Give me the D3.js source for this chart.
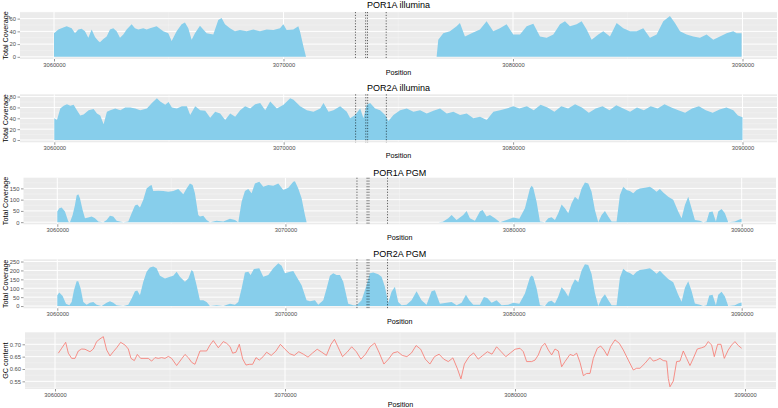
<!DOCTYPE html>
<html>
<head>
<meta charset="utf-8">
<script src="https://cdn.jsdelivr.net/npm/d3@7"></script>
<style>
  body { margin: 0; background: #fff; }
  text { font-family: "Liberation Sans", Arial, sans-serif; }
</style>
</head>
<body>
<svg id="chart" width="778" height="408"></svg>
<script>
// positions are stored as offsets from START
const START = 3060000
const xTickValues = [3060000, 3070000, 3080000, 3090000]
const markerPositions = [3073135, 3073580, 3073660, 3074475]

const por1aIllumina = [[0,37],[189,43],[407,46],[552,48],[770,45],[915,37],[1060,43],[1205,44],[1350,40],[1496,30],
  [1641,43],[1786,31],[1931,25],[2004,23],[2149,28],[2294,32],[2439,43],[2585,45],[2730,40],[2875,30],[3020,35],
  [3165,43],[3383,51],[3528,45],[3674,43],[3891,45],[4037,43],[4182,45],[4472,48],[4763,40],[4980,37],[5126,25],
  [5343,40],[5561,51],[5706,54],[5852,45],[5997,27],[6142,37],[6360,49],[6505,43],[6650,37],[6941,35],[7158,58],
  [7304,61],[7449,51],[7667,45],[7885,40],[8102,42],[8393,40],[8683,43],[8976,40],[9266,43],[9557,42],[9847,45],
  [9992,51],[10138,42],[10428,43],[10646,48],[10718,40],[10864,17],[10980,0],[16672,0],[16744,27],[16962,37],
  [17252,40],[17543,48],[17688,53],[17906,32],[18196,37],[18559,43],[18850,56],[19140,40],[19430,45],[19721,51],
  [20011,35],[20305,35],[20595,48],[20886,52],[21176,32],[21467,30],[21757,35],[22047,51],[22265,56],[22483,48],
  [22773,51],[22991,56],[23209,43],[23427,27],[23717,35],[23935,40],[24225,32],[24516,53],[24806,45],[25097,40],
  [25387,40],[25677,45],[25968,30],[26258,35],[26549,56],[26839,64],[27057,53],[27275,40],[27565,35],[27855,32],
  [28146,30],[28436,35],[28726,27],[29017,32],[29307,37],[29598,40],[29743,37],[29961,37]]

const por2aIllumina = [[0,40],[116,37],[261,58],[407,63],[552,66],[697,63],[842,65],[987,55],[1133,45],[1278,47],
  [1496,55],[1713,57],[1859,49],[2004,45],[2149,29],[2294,52],[2439,55],[2657,58],[2875,55],[3093,60],[3311,60],
  [3528,58],[3746,55],[4037,58],[4254,68],[4472,77],[4617,71],[4835,65],[4980,70],[5126,60],[5343,58],[5561,62],
  [5779,62],[5924,46],[6142,62],[6360,55],[6578,54],[6796,41],[7013,52],[7231,49],[7449,37],[7667,49],[7885,43],
  [8102,55],[8320,62],[8538,58],[8756,66],[8976,68],[9194,55],[9412,71],[9702,58],[9992,65],[10283,77],[10428,74],
  [10718,62],[11009,55],[11299,52],[11590,58],[11735,68],[11953,52],[12170,55],[12461,62],[12751,52],[12896,40],
  [13114,46],[13334,58],[13477,40],[13622,65],[13768,68],[13985,58],[14203,55],[14421,46],[14566,35],[14784,46],
  [15074,55],[15365,58],[15655,52],[15946,55],[16236,49],[16526,54],[16817,58],[17107,49],[17398,52],[17688,46],
  [17978,49],[18269,40],[18559,43],[18850,37],[19140,52],[19430,55],[19721,58],[20011,62],[20273,58],[20600,62],
  [20900,55],[21200,65],[21500,60],[21800,52],[22100,62],[22400,58],[22700,66],[23000,60],[23300,50],[23600,58],
  [23900,62],[24200,55],[24500,64],[24800,58],[25100,52],[25400,60],[25700,55],[26000,62],[26300,58],[26600,66],
  [26900,60],[27200,55],[27500,50],[27800,58],[28100,62],[28400,55],[28700,50],[29000,56],[29300,60],[29600,55],
  [29800,45],[30000,42]]

const por1aPgm = [[0,47],[88,62],[190,65],[336,47],[482,3],[555,0],[672,32],[774,76],[847,118],[920,124],[993,106],
  [1110,54],[1213,18],[1359,21],[1505,25],[1651,18],[1797,3],[2016,0],[2162,10],[2308,29],[2454,25],[2600,6],
  [2892,0],[3112,3],[3258,40],[3404,74],[3506,79],[3623,65],[3769,99],[3915,150],[4061,162],[4134,165],[4207,138],
  [4427,140],[4646,138],[4865,135],[5084,138],[5303,147],[5522,124],[5668,150],[5814,172],[5931,165],[6033,128],
  [6179,32],[6253,25],[6399,29],[6545,10],[6691,0],[6983,6],[7276,3],[7568,15],[7787,10],[7933,0],[8079,91],
  [8225,138],[8371,147],[8517,128],[8663,172],[8853,179],[9029,157],[9248,165],[9467,162],[9687,172],[9906,143],
  [10125,153],[10344,179],[10417,182],[10563,150],[10709,106],[10855,32],[10928,0],[16699,0],[16900,2],[17138,18],
  [17284,32],[17503,10],[17795,32],[17941,50],[18087,18],[18306,6],[18525,47],[18642,54],[18818,25],[18964,32],
  [19183,18],[19402,0],[19695,10],[19987,21],[20253,15],[20498,62],[20717,150],[20790,162],[20863,153],[21010,91],
  [21156,3],[21375,0],[21521,18],[21667,22],[21813,10],[21959,40],[22105,79],[22251,62],[22397,40],[22543,84],
  [22690,113],[22836,99],[22982,150],[23128,176],[23274,172],[23420,135],[23566,54],[23712,0],[23859,32],[24005,50],
  [24151,25],[24297,3],[24516,3],[24662,121],[24808,157],[24954,143],[25100,138],[25246,128],[25393,143],[25539,150],
  [25758,153],[25977,157],[26123,147],[26269,135],[26415,147],[26561,132],[26780,113],[26999,99],[27218,47],
  [27365,18],[27511,76],[27657,113],[27803,62],[27949,10],[28168,6],[28314,0],[28460,3],[28577,44],[28723,47],
  [28869,3],[28972,47],[29118,59],[29264,40],[29410,0],[29702,3],[29848,10],[29994,15]]

const por2aPgm = [[0,61],[88,76],[234,57],[380,13],[526,4],[628,23],[730,89],[847,140],[920,140],[1023,98],[1140,23],
  [1286,8],[1432,19],[1578,23],[1724,8],[1943,0],[2162,19],[2308,27],[2454,19],[2600,4],[2892,0],[3112,8],[3258,42],
  [3404,83],[3506,87],[3623,61],[3769,136],[3915,193],[4061,216],[4207,222],[4353,212],[4500,170],[4719,155],
  [4938,165],[5084,170],[5230,193],[5376,165],[5595,136],[5741,155],[5887,203],[5960,193],[6106,117],[6253,32],
  [6399,32],[6545,23],[6691,0],[6983,4],[7276,0],[7568,13],[7787,8],[7933,23],[8079,98],[8225,189],[8371,193],
  [8473,174],[8619,208],[8853,212],[9029,165],[9248,174],[9467,212],[9687,241],[9833,227],[9979,184],[10198,193],
  [10344,197],[10490,165],[10709,117],[10928,32],[11074,27],[11293,32],[11439,8],[11658,32],[11804,98],[11950,170],
  [12096,184],[12242,174],[12388,174],[12534,136],[12753,13],[12972,4],[13119,4],[13338,32],[13557,117],[13703,184],
  [13849,189],[14068,178],[14214,165],[14360,108],[14506,19],[14652,80],[14798,108],[14944,23],[15090,4],[15309,8],
  [15528,32],[15748,83],[15967,32],[16186,8],[16406,83],[16552,89],[16771,13],[17064,19],[17284,23],[17503,4],
  [17722,19],[17912,64],[18058,32],[18234,8],[18525,8],[18700,51],[18847,45],[19036,19],[19256,32],[19475,4],
  [19767,8],[19987,19],[20253,13],[20498,70],[20717,160],[20790,172],[20863,164],[21010,100],[21156,4],[21375,0],
  [21521,24],[21667,30],[21813,14],[21959,54],[22105,105],[22251,84],[22397,54],[22543,113],[22690,150],[22836,134],
  [22982,200],[23128,235],[23274,230],[23420,180],[23566,73],[23712,0],[23859,43],[24005,67],[24151,34],[24297,4],
  [24516,4],[24662,160],[24808,210],[24954,193],[25100,186],[25246,173],[25393,193],[25539,203],[25758,207],
  [25977,212],[26123,198],[26269,182],[26415,198],[26561,178],[26780,152],[26999,134],[27218,63],[27365,24],
  [27511,103],[27657,140],[27803,84],[27949,14],[28168,8],[28314,0],[28460,4],[28577,59],[28723,63],[28869,4],
  [28972,63],[29118,80],[29264,54],[29410,0],[29702,4],[29848,14],[29994,20]]

const gcContent = [[145,0.664],[290,0.684],[464,0.708],[580,0.664],[725,0.643],[869,0.643],[1014,0.673],[1159,0.681],
  [1304,0.680],[1521,0.670],[1666,0.681],[1811,0.711],[1956,0.722],[2101,0.731],[2246,0.677],[2391,0.653],[2536,0.670],
  [2681,0.686],[2855,0.708],[3043,0.697],[3188,0.681],[3304,0.643],[3449,0.634],[3579,0.659],[3724,0.643],[3869,0.643],
  [4057,0.643],[4202,0.632],[4347,0.646],[4492,0.643],[4637,0.646],[4782,0.643],[4927,0.651],[5071,0.643],[5289,0.614],
  [5506,0.641],[5651,0.659],[5796,0.646],[5941,0.627],[6086,0.619],[6303,0.673],[6593,0.673],[6738,0.697],[6883,0.715],
  [7100,0.686],[7318,0.711],[7463,0.704],[7608,0.691],[7724,0.664],[7869,0.668],[8014,0.700],[8159,0.641],[8304,0.616],
  [8448,0.619],[8593,0.619],[8738,0.646],[8882,0.636],[9050,0.650],[9200,0.668],[9400,0.655],[9600,0.672],[9800,0.700],
  [10000,0.680],[10200,0.662],[10400,0.655],[10600,0.670],[10800,0.660],[11000,0.648],[11200,0.665],[11400,0.680],
  [11600,0.668],[11800,0.655],[12000,0.700],[12150,0.720],[12300,0.690],[12500,0.650],[12700,0.668],[12900,0.690],
  [13100,0.670],[13300,0.640],[13500,0.660],[13700,0.690],[13900,0.705],[14100,0.665],[14300,0.620],[14500,0.640],
  [14700,0.665],[14900,0.670],[15100,0.655],[15300,0.650],[15500,0.665],[15700,0.695],[15900,0.680],[16100,0.640],
  [16300,0.620],[16500,0.650],[16700,0.660],[16900,0.640],[17100,0.630],[17300,0.645],[17500,0.600],[17650,0.560],
  [17800,0.620],[18000,0.650],[18200,0.665],[18400,0.640],[18600,0.655],[18800,0.670],[19000,0.660],[19200,0.690],
  [19400,0.670],[19600,0.650],[19800,0.665],[20000,0.680],[20217,0.684],[20362,0.670],[20507,0.630],[20724,0.630],
  [20869,0.636],[21014,0.657],[21159,0.691],[21304,0.704],[21449,0.677],[21594,0.657],[21739,0.681],[21884,0.673],
  [22029,0.609],[22173,0.630],[22391,0.659],[22536,0.654],[22681,0.664],[22826,0.627],[22971,0.573],[23116,0.582],
  [23261,0.582],[23405,0.643],[23579,0.684],[23724,0.693],[23869,0.677],[24014,0.654],[24158,0.691],[24347,0.718],
  [24535,0.704],[24709,0.677],[24926,0.636],[25144,0.596],[25289,0.603],[25434,0.603],[25651,0.623],[25868,0.647],
  [26013,0.632],[26158,0.636],[26303,0.643],[26448,0.634],[26593,0.632],[26665,0.562],[26737,0.528],[26882,0.551],
  [27027,0.630],[27172,0.632],[27317,0.673],[27462,0.643],[27607,0.614],[27752,0.643],[27926,0.681],[28114,0.686],
  [28259,0.691],[28404,0.711],[28549,0.697],[28665,0.650],[28810,0.700],[28955,0.700],[29100,0.643],[29273,0.677],
  [29418,0.697],[29563,0.711],[29708,0.695],[29853,0.684]]

const panels = [
  { title: 'POR1A illumina', data: por1aIllumina, kind: 'area', ylab: 'Total Coverage',
    top: 12, bottom: 59, left: 20, right: 777, x0: 54, x1: 742.5, titleY: 4.5, ylabX: 5,
    yDomain: [-3.4, 70.4], yTicks: [0, 20, 40, 60], yMinor: [10, 30, 50, 70] },
  { title: 'POR2A illumina', data: por2aIllumina, kind: 'area', ylab: 'Total Coverage',
    top: 94.3, bottom: 142.3, left: 20, right: 777, x0: 54.3, x1: 742.5, titleY: 87.8, ylabX: 5,
    yDomain: [-4.2, 84.2], yTicks: [0, 20, 40, 60, 80], yMinor: [10, 30, 50, 70] },
  { title: 'POR1A PGM', data: por1aPgm, kind: 'area', ylab: 'Total Coverage',
    top: 177.7, bottom: 224.3, left: 23.5, right: 776, x0: 57.3, x1: 741.7, titleY: 173, ylabX: 5,
    yDomain: [-9.4, 197.4], yTicks: [0, 50, 100, 150], yMinor: [25, 75, 125, 175] },
  { title: 'POR2A PGM', data: por2aPgm, kind: 'area', ylab: 'Total Coverage',
    top: 259.3, bottom: 308.3, left: 23.5, right: 776, x0: 57.3, x1: 741.7, titleY: 253.8, ylabX: 5,
    yDomain: [-12.5, 262.5], yTicks: [0, 50, 100, 150, 200, 250], yMinor: [25, 75, 125, 175, 225] },
  { title: null, data: gcContent, kind: 'line', ylab: 'GC content',
    top: 332.3, bottom: 389, left: 25, right: 776, x0: 55, x1: 745, titleY: 0, ylabX: 5.5,
    yDomain: [0.519, 0.7486], yTicks: [0.55, 0.60, 0.65, 0.70], yMinor: [0.525, 0.575, 0.625, 0.675, 0.725] }
]

const svg = d3.select('#chart')

panels.forEach(p => {
  const x = d3.scaleLinear().domain([xTickValues[0], xTickValues[3]]).range([p.x0, p.x1])
  const y = d3.scaleLinear().domain(p.yDomain).range([p.bottom, p.top])
  const g = svg.append('g')

  g.append('rect')
    .attr('x', p.left).attr('y', p.top)
    .attr('width', p.right - p.left).attr('height', p.bottom - p.top)
    .attr('fill', '#ebebeb')

  // minor grid
  g.selectAll('.hminor').data(p.yMinor.filter(v => v > p.yDomain[0] && v < p.yDomain[1])).enter()
    .append('line')
    .attr('x1', p.left).attr('x2', p.right)
    .attr('y1', d => y(d)).attr('y2', d => y(d))
    .attr('stroke', '#f5f5f5').attr('stroke-width', 0.5)
  g.selectAll('.vminor').data([3065000, 3075000, 3085000]).enter()
    .append('line')
    .attr('y1', p.top).attr('y2', p.bottom)
    .attr('x1', d => x(d)).attr('x2', d => x(d))
    .attr('stroke', '#f5f5f5').attr('stroke-width', 0.5)

  // major grid
  g.selectAll('.hmajor').data(p.yTicks).enter()
    .append('line')
    .attr('x1', p.left).attr('x2', p.right)
    .attr('y1', d => y(d)).attr('y2', d => y(d))
    .attr('stroke', '#fff').attr('stroke-width', 1)
  g.selectAll('.vmajor').data(xTickValues).enter()
    .append('line')
    .attr('y1', p.top).attr('y2', p.bottom)
    .attr('x1', d => x(d)).attr('x2', d => x(d))
    .attr('stroke', '#fff').attr('stroke-width', 1)

  if (p.kind === 'area') {
    const area = d3.area()
      .x(d => x(START + d[0]))
      .y0(y(0))
      .y1(d => y(d[1]))
    g.append('path').datum(p.data)
      .attr('d', area)
      .attr('fill', '#87ceeb')

    g.selectAll('.marker').data(markerPositions).enter()
      .append('line')
      .attr('x1', d => x(d)).attr('x2', d => x(d))
      .attr('y1', p.top).attr('y2', p.bottom)
      .attr('stroke', '#000').attr('stroke-width', 0.6)
      .attr('stroke-dasharray', '1.2,1.6')
  } else {
    const line = d3.line()
      .x(d => x(START + d[0]))
      .y(d => y(d[1]))
    g.append('path').datum(p.data)
      .attr('d', line)
      .attr('fill', 'none')
      .attr('stroke', '#f8766d')
      .attr('stroke-width', 0.8)
  }

  const yAxis = d3.axisLeft(y).tickValues(p.yTicks).tickSize(2.5).tickPadding(1.5)
  if (p.kind === 'line') yAxis.tickFormat(d3.format('.2f'))
  const ya = g.append('g').attr('transform', `translate(${p.left},0)`).call(yAxis)
  ya.select('.domain').remove()
  ya.selectAll('line').attr('stroke', '#333').attr('stroke-width', 0.5)
  ya.selectAll('text').attr('fill', '#4d4d4d').attr('font-size', 5.8)
    .attr('font-family', '"Liberation Sans", Arial, sans-serif')

  const xAxis = d3.axisBottom(x).tickValues(xTickValues).tickSize(2.5).tickPadding(1.2)
    .tickFormat(d3.format('d'))
  const xa = g.append('g').attr('transform', `translate(0,${p.bottom})`).call(xAxis)
  xa.select('.domain').remove()
  xa.selectAll('line').attr('stroke', '#333').attr('stroke-width', 0.5)
  xa.selectAll('text').attr('fill', '#4d4d4d').attr('font-size', 5.8)
    .attr('font-family', '"Liberation Sans", Arial, sans-serif')

  const cx = (p.left + p.right) / 2
  g.append('text')
    .attr('x', cx).attr('y', p.bottom + (p.kind === 'line' ? 15 : 13.2))
    .attr('text-anchor', 'middle').attr('dominant-baseline', 'central')
    .attr('font-size', 7.2).attr('fill', '#000')
    .text('Position')

  g.append('text')
    .attr('transform', `translate(${p.ylabX},${(p.top + p.bottom) / 2}) rotate(-90)`)
    .attr('text-anchor', 'middle').attr('dominant-baseline', 'central')
    .attr('font-size', 7.2).attr('fill', '#000')
    .text(p.ylab)

  if (p.title) {
    g.append('text')
      .attr('x', cx).attr('y', p.titleY)
      .attr('text-anchor', 'middle').attr('dominant-baseline', 'central')
      .attr('font-size', 9).attr('fill', '#000')
      .text(p.title)
  }
})
</script>
</body>
</html>
